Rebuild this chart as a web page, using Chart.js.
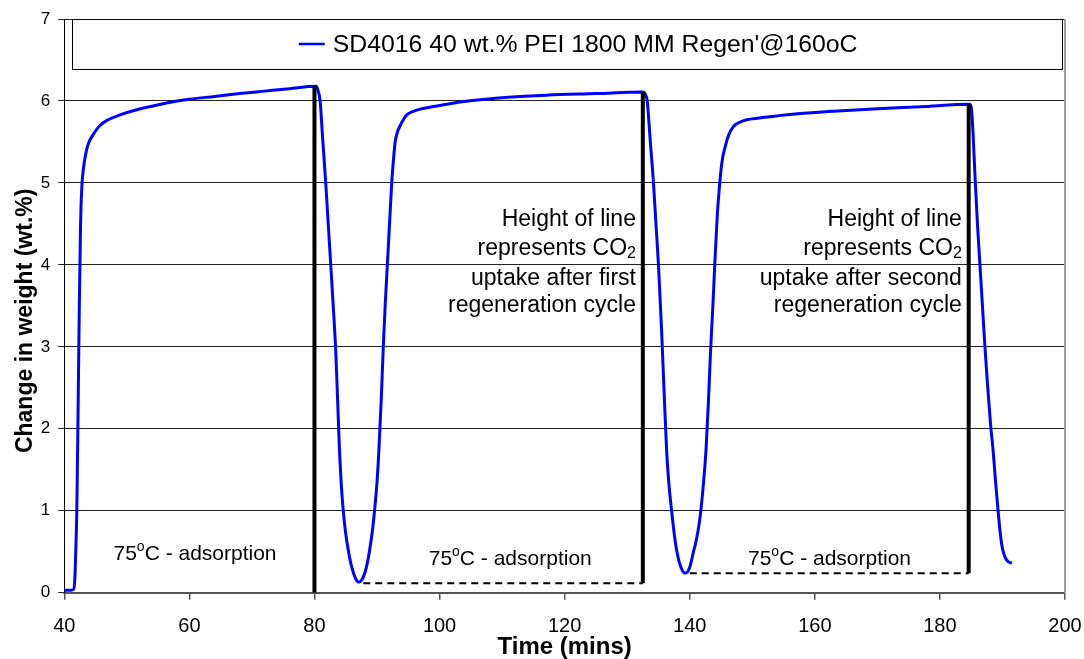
<!DOCTYPE html>
<html>
<head>
<meta charset="utf-8">
<title>SD4016 regeneration cycles</title>
<script src="https://cdn.jsdelivr.net/npm/chart.js@4.4.0/dist/chart.umd.min.js"></script>
<style>
  html, body { margin: 0; padding: 0; background: #fff; }
  #wrap { width: 1084px; height: 659px; }
</style>
</head>
<body>
<div id="wrap"><canvas id="chart"></canvas></div>
<script>
// ===========================
// Data
// ===========================
const seriesLabel = "SD4016 40 wt.% PEI 1800 MM Regen'@160oC";

const timeMins = [
  // cycle 1 adsorption
  40, 41.0, 41.5, 41.7, 41.85, 42.0, 42.2, 42.4, 42.6, 42.8, 43.1, 43.5, 43.85, 44.7, 45.7,
  47.0, 48.9, 51.0, 54.0, 57.0, 60.0, 64.0, 68.0, 72.0, 76.0, 80.3,
  // regeneration 1 + cycle 2
  80.55, 80.9, 81.3, 81.8, 82.2, 82.6, 83.0, 83.4, 83.7, 84.0, 84.3, 84.6, 85.0, 85.4, 85.8,
  86.2, 86.6, 87.0, 87.4, 87.8, 88.2, 88.6, 88.9, 89.3, 89.6, 90.0, 90.3, 90.7, 91.0, 91.3,
  91.65, 92.0, 92.35, 92.65, 92.9, 93.3, 93.7, 94.2, 94.75, 95.7, 96.9, 100.0, 103.0, 106.5,
  111.0, 117.1, 125.0, 132.6,
  // regeneration 2 + cycle 3
  132.9, 133.2, 133.7, 134.2, 134.6, 135.0, 135.5, 135.9, 136.3, 136.7, 137.1, 137.5, 137.9,
  138.3, 138.7, 139.2, 139.6, 140.0, 140.3, 140.6, 140.9, 141.2, 141.5, 141.8, 142.2, 142.6,
  143.0, 143.3, 143.7, 144.0, 144.4, 144.8, 145.2, 145.6, 146.2, 147.0, 148.0, 149.1, 152.0,
  156.0, 163.0, 170.0, 177.0, 184.8,
  // regeneration 3
  185.05, 185.3, 185.6, 186.0, 186.4, 186.8, 187.2, 187.6, 188.1, 188.5, 188.9, 189.3, 189.6,
  189.9, 190.2, 190.5, 190.9, 191.5
];
const weightPct = [
  0.03, 0.03, 0.04, 0.2, 0.55, 1.0, 2.2, 3.5, 4.5, 4.95, 5.2, 5.38, 5.48, 5.6, 5.70,
  5.77, 5.83, 5.88, 5.935, 5.985, 6.02, 6.055, 6.09, 6.12, 6.15, 6.18,
  6.13, 6.0, 5.55, 5.0, 4.5, 4.0, 3.5, 2.95, 2.35, 1.74, 1.3, 1.0, 0.72, 0.52, 0.36,
  0.25, 0.17, 0.13, 0.14, 0.19, 0.28, 0.42, 0.56, 0.78, 1.0, 1.35, 1.74, 2.4, 3.0, 3.5,
  4.0, 4.5, 5.0, 5.3, 5.5, 5.63, 5.7, 5.77, 5.83, 5.87, 5.90, 5.945, 5.985, 6.015,
  6.045, 6.07, 6.09, 6.11,
  6.08, 6.0, 5.5, 5.0, 4.5, 4.0, 3.2, 2.45, 1.74, 1.3, 1.0, 0.73, 0.52,
  0.38, 0.29, 0.24, 0.25, 0.31, 0.4, 0.5, 0.59, 0.7, 0.84, 1.02, 1.34, 1.74,
  2.35, 2.9, 3.5, 4.0, 4.6, 5.0, 5.28, 5.42, 5.58, 5.69, 5.74, 5.77, 5.80,
  5.835, 5.875, 5.905, 5.93, 5.96,
  5.9, 5.6, 5.1, 4.5, 4.0, 3.5, 3.0, 2.55, 2.05, 1.74, 1.35, 1.0, 0.76,
  0.58, 0.48, 0.42, 0.38, 0.36
];

// black "height of line" markers at the end of each adsorption step
const markerTimes = [80, 132.5, 184.6];
const markerTops = [6.18, 6.11, 5.96];
const markerBottoms = [0, 0.115, 0.237];
// dashed baselines for cycles 2 and 3 (start time; they end at the marker)
const dashStarts = [87.8, 140.0];

const xTicks = [40, 60, 80, 100, 120, 140, 160, 180, 200];
const yTicks = [0, 1, 2, 3, 4, 5, 6, 7];

// ===========================
// Text notes (data coordinates)
// ===========================
const fontFamily = "'Liberation Sans', Arial, Helvetica, sans-serif";
const yTitle = "Change in weight (wt.%)";

const notes = [
  { lines: ["75^oC - adsorption"], x: 60.9, y: 0.40, align: "center", size: 21 },
  { lines: ["75^oC - adsorption"], x: 111.3, y: 0.338, align: "center", size: 21 },
  { lines: ["75^oC - adsorption"], x: 162.35, y: 0.338, align: "center", size: 21 },
  { lines: ["Height of line", "represents CO_2", "uptake after first", "regeneration cycle"],
    x: 131.4, ys: [4.474, 4.12, 3.754, 3.425], align: "right", size: 23 },
  { lines: ["Height of line", "represents CO_2", "uptake after second", "regeneration cycle"],
    x: 183.5, ys: [4.474, 4.12, 3.754, 3.425], align: "right", size: 23 }
];

// split "75^oC" / "CO_2" into runs with super/subscripts
function toRuns(text) {
  const runs = [];
  const re = /([_^])(\w)/g;
  let last = 0, m;
  while ((m = re.exec(text)) !== null) {
    if (m.index > last) runs.push({ t: text.slice(last, m.index), kind: "n" });
    runs.push({ t: m[2], kind: m[1] === "^" ? "sup" : "sub" });
    last = re.lastIndex;
  }
  if (last < text.length) runs.push({ t: text.slice(last), kind: "n" });
  return runs;
}

function drawRich(ctx, text, x, yBase, align, size) {
  const runs = toRuns(text);
  const fontOf = r => (r.kind === "n" ? size : Math.round(size * 0.68)) + "px " + fontFamily;
  let total = 0;
  const widths = runs.map(r => {
    ctx.font = fontOf(r);
    const w = ctx.measureText(r.t).width;
    total += w;
    return w;
  });
  let cx = align === "right" ? x - total : align === "center" ? x - total / 2 : x;
  ctx.textAlign = "left";
  ctx.textBaseline = "alphabetic";
  runs.forEach((r, i) => {
    ctx.font = fontOf(r);
    let dy = 0;
    if (r.kind === "sup") dy = -size * 0.42;
    if (r.kind === "sub") dy = size * 0.12;
    ctx.fillText(r.t, cx, yBase + dy);
    cx += widths[i];
  });
}

const decorPlugin = {
  id: "decor",
  afterDraw(chart) {
    const { ctx, chartArea: a, scales: { x, y } } = chart;
    ctx.save();

    // right frame of the plot area
    ctx.strokeStyle = "#a0a0a0";
    ctx.lineWidth = 2;
    ctx.beginPath();
    ctx.moveTo(a.right, a.top);
    ctx.lineTo(a.right, a.bottom);
    ctx.stroke();

    // legend box across the top of the plot
    const bx = a.left + 8, bw = a.right - 3 - bx;
    const by = a.top, bh = 50;
    ctx.fillStyle = "#fff";
    ctx.fillRect(bx, by, bw, bh);
    ctx.strokeStyle = "#000";
    ctx.lineWidth = 1;
    ctx.strokeRect(Math.round(bx) + 0.5, Math.round(by) + 0.5, Math.round(bw), bh);
    ctx.font = "24.8px " + fontFamily;
    const tw = ctx.measureText(seriesLabel).width;
    const sample = 26, gap = 8;
    // entry sits a little right of the box centre
    const startX = bx + bw / 2 - (sample + gap + tw) / 2 + 11;
    const midY = by + bh / 2;
    ctx.strokeStyle = "#0000ff";
    ctx.lineWidth = 2.5;
    ctx.beginPath();
    ctx.moveTo(startX, midY);
    ctx.lineTo(startX + sample, midY);
    ctx.stroke();
    ctx.fillStyle = "#000";
    ctx.textAlign = "left";
    ctx.textBaseline = "middle";
    ctx.fillText(seriesLabel, startX + sample + gap, midY + 1);

    // y axis title, sitting a little below the middle as in the original
    ctx.save();
    ctx.translate(26, (a.top + a.bottom) / 2 + 15);
    ctx.rotate(-Math.PI / 2);
    ctx.font = "bold 23px " + fontFamily;
    ctx.textAlign = "center";
    ctx.textBaseline = "middle";
    ctx.fillText(yTitle, 0, 0);
    ctx.restore();

    // annotations
    ctx.fillStyle = "#000";
    notes.forEach(n => {
      const px = x.getPixelForValue(n.x);
      n.lines.forEach((line, i) => {
        const yv = n.ys ? n.ys[i] : n.y;
        drawRich(ctx, line, px, y.getPixelForValue(yv), n.align, n.size);
      });
    });

    ctx.restore();
  }
};

// ===========================
// Datasets
// ===========================
const markerSets = markerTimes.map((t, i) => ({
  data: [{ x: t, y: markerBottoms[i] }, { x: t, y: markerTops[i] }],
  borderColor: "#000",
  borderWidth: 4,
  pointRadius: 0,
  order: 1
}));

const dashSets = dashStarts.map((t, i) => ({
  data: [{ x: t, y: markerBottoms[i + 1] }, { x: markerTimes[i + 1], y: markerBottoms[i + 1] }],
  borderColor: "#000",
  borderWidth: 2,
  borderDash: [7, 5],
  pointRadius: 0,
  order: 3
}));

const curveSet = {
  label: seriesLabel,
  data: timeMins.map((t, i) => ({ x: t, y: weightPct[i] })),
  borderColor: "#0000ff",
  borderWidth: 3,
  pointRadius: 0,
  cubicInterpolationMode: "monotone",
  order: 2
};

new Chart(document.getElementById("chart"), {
  type: "line",
  data: { datasets: [...markerSets, ...dashSets, curveSet] },
  plugins: [decorPlugin],
  options: {
    responsive: true,
    maintainAspectRatio: false,
    animation: false,
    layout: { padding: { top: 19, right: 19, left: 0, bottom: 0 } },
    plugins: { legend: { display: false }, tooltip: { enabled: false } },
    scales: {
      x: {
        type: "linear",
        min: 40,
        max: 200,
        afterBuildTicks: s => { s.ticks = xTicks.map(v => ({ value: v })); },
        afterFit: s => {
          s.height = 66.3;
          // end labels may spill into the margins, as in the original
          s.paddingLeft = 0;
          s.paddingRight = 0;
        },
        grid: { drawOnChartArea: false, color: "#555", lineWidth: 1.5, tickLength: 7 },
        border: { color: "#555", width: 2 },
        ticks: { color: "#000", padding: 15, font: { family: fontFamily, size: 20 } },
        title: {
          display: true,
          text: "Time (mins)",
          color: "#000",
          padding: { top: 0, bottom: 0 },
          font: { family: fontFamily, size: 24, weight: "bold", lineHeight: 1 }
        }
      },
      y: {
        min: 0,
        max: 7,
        afterBuildTicks: s => { s.ticks = yTicks.map(v => ({ value: v })); },
        afterFit: s => { s.width = 64.3; },
        grid: { color: "#222", lineWidth: 1, tickLength: 6 },
        border: { color: "#000", width: 1 },
        ticks: { color: "#000", padding: 8, font: { family: fontFamily, size: 17 } }
      }
    }
  }
});
</script>
</body>
</html>
